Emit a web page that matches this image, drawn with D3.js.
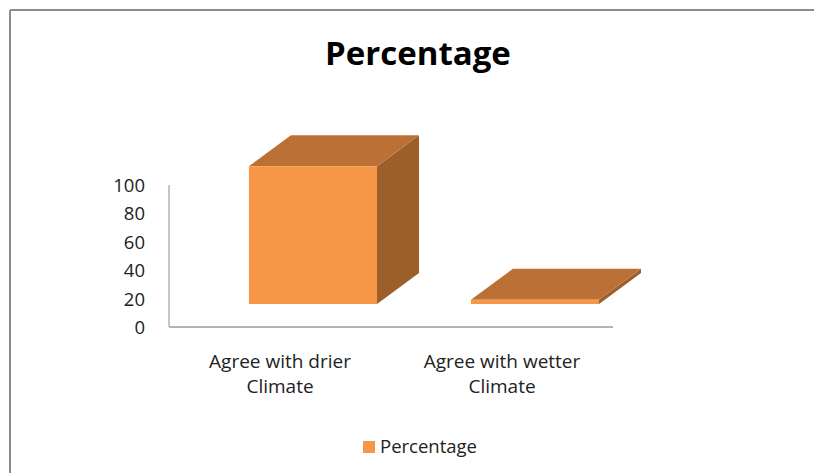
<!DOCTYPE html>
<html>
<head>
<meta charset="utf-8">
<script src="https://cdn.jsdelivr.net/npm/d3@7"></script>
<style>
html,body{margin:0;padding:0;background:#fff;}
svg{display:block;}
text{font-family:"Open Sans","Noto Sans",sans-serif;}
</style>
</head>
<body>
<svg id="chart" width="814" height="473"></svg>
<script>
const categories = ["Agree with drier\nClimate", "Agree with wetter\nClimate"];
const values = [97, 3];
const yTicks = [0, 20, 40, 60, 80, 100];
const seriesName = "Percentage";
const chartTitle = "Percentage";

const svg = d3.select("#chart");
const W = 814, H = 473;

// frame
svg.append("line").attr("x1", 10).attr("x2", W).attr("y1", 10).attr("y2", 10)
  .attr("stroke", "#8c8c8c").attr("stroke-width", 2);
svg.append("line").attr("x1", 10).attr("x2", 10).attr("y1", 10).attr("y2", H)
  .attr("stroke", "#8c8c8c").attr("stroke-width", 2);

// title
svg.append("text").attr("x", 418).attr("y", 65).attr("text-anchor", "middle")
  .attr("font-size", 33).attr("font-weight", "bold").attr("fill", "#000")
  .text(chartTitle);

// scales
const y = d3.scaleLinear().domain([0, 100]).range([327, 185]);
const x = d3.scaleBand().domain(categories).range([169, 613]).paddingInner(0.0).paddingOuter(0.0);

// axis
const axisG = svg.append("g").attr("transform", "translate(169,0)");
axisG.call(d3.axisLeft(y).tickValues(yTicks).tickSize(0).tickPadding(24));
axisG.select(".domain").remove();
axisG.selectAll("text").attr("font-size", 18.5).attr("fill", "#222")
  .attr("font-family", "'Open Sans','Noto Sans',sans-serif").attr("dy", "0.35em");

svg.append("line").attr("x1", 169).attr("x2", 169).attr("y1", y(100)).attr("y2", y(0))
  .attr("stroke", "#b3b3b3").attr("stroke-width", 1.5);
svg.append("line").attr("x1", 169).attr("x2", 613).attr("y1", y(0)).attr("y2", y(0))
  .attr("stroke", "#b3b3b3").attr("stroke-width", 2);

// 3D bars
const frontOffsetY = 23;   // front plane offset (px) below the axis plane
const depthX = 42, depthY = -31;
const barW = x.bandwidth() * 0.577;
const barShift = x.bandwidth() * 0.36;

const bars = svg.append("g");
values.forEach((v, i) => {
  const x0 = x(categories[i]) + barShift;
  const x1 = x0 + barW;
  const yb = y(0) - frontOffsetY;
  const yt = y(v) - frontOffsetY;
  const g = bars.append("g");
  // side
  g.append("path").attr("d", `M${x1},${yt} L${x1+depthX},${yt+depthY} L${x1+depthX},${yb+depthY} L${x1},${yb} Z`)
    .attr("fill", "#9c5f2c");
  // top
  g.append("path").attr("d", `M${x0},${yt} L${x0+depthX},${yt+depthY} L${x1+depthX},${yt+depthY} L${x1},${yt} Z`)
    .attr("fill", "#bb7135");
  // front
  g.append("rect").attr("x", x0).attr("y", yt).attr("width", barW).attr("height", yb - yt)
    .attr("fill", "#f79646");
});

// category labels
categories.forEach((c, i) => {
  const cx = x(c) + x.bandwidth() / 2;
  const t = svg.append("text").attr("text-anchor", "middle").attr("font-size", 19).attr("fill", "#222");
  c.split("\n").forEach((line, k) => {
    t.append("tspan").attr("x", cx).attr("y", 368 + k * 25).text(line);
  });
});

// legend
svg.append("rect").attr("x", 363).attr("y", 441).attr("width", 12).attr("height", 12).attr("fill", "#f79646");
svg.append("text").attr("x", 380).attr("y", 453).attr("font-size", 18.5).attr("fill", "#222").text(seriesName);
</script>
</body>
</html>
